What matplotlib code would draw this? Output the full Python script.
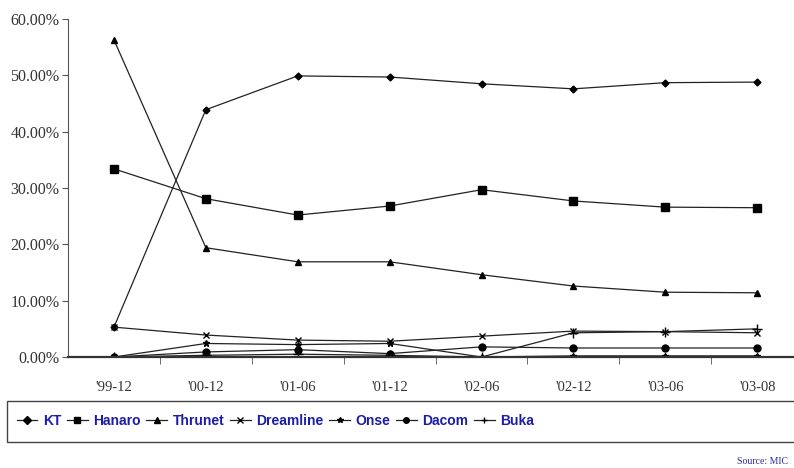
import matplotlib
matplotlib.use("Agg")
import matplotlib.pyplot as plt
from matplotlib.patches import Rectangle
from matplotlib import font_manager

periods = ["'99-12", "'00-12", "'01-06", "'01-12", "'02-06", "'02-12", "'03-06", "'03-08"]

kt = [5.3, 43.9, 49.9, 49.7, 48.5, 47.6, 48.7, 48.8]
hanaro = [33.4, 28.1, 25.2, 26.8, 29.7, 27.7, 26.6, 26.5]
thrunet = [56.3, 19.4, 16.9, 16.9, 14.6, 12.6, 11.5, 11.4]
dreamline = [5.3, 3.9, 3.0, 2.8, 3.7, 4.6, 4.5, 4.3]
onse = [0.0, 2.4, 2.2, 2.4, 0.0, 0.2, 0.2, 0.2]
dacom = [0.0, 0.9, 1.3, 0.6, 1.8, 1.6, 1.6, 1.6]
buka = [0.0, 0.3, 0.5, 0.3, 0.0, 4.3, 4.5, 5.0]

names = ["KT", "Hanaro", "Thrunet", "Dreamline", "Onse", "Dacom", "Buka"]
series = [kt, hanaro, thrunet, dreamline, onse, dacom, buka]
markers = ["D", "s", "^", "x", "*", "o", "+"]
msizes = [3.5, 6, 5, 5, 5, 5, 7]

# narrow font for the legend if one is installed
available = {f.name for f in font_manager.fontManager.ttflist}
narrow = [f for f in ["Liberation Sans Narrow", "DejaVu Sans Condensed"] if f in available]
leg_family = narrow[0] if narrow else "Liberation Sans"
leg_size = 12.5 if leg_family == "Liberation Sans Narrow" else 10

W, H = 794, 468
fig = plt.figure(figsize=(W / 100, H / 100), dpi=100)
ax = fig.add_axes([68 / W, 1 - 357 / H, (W - 68) / W, (357 - 19) / H])

x = list(range(len(periods)))
lines = []
for name, vals, m, ms in zip(names, series, markers, msizes):
    ln, = ax.plot(x, vals, color="#222222", lw=0.9, marker=m, ms=ms,
                  mfc="black", mec="black", mew=1.0, label=name)
    lines.append(ln)

ax.set_xlim(-0.5, 7.4)
ax.set_ylim(0, 60)
ax.set_yticks(range(0, 61, 10))
ax.set_yticklabels([f"{v:.2f}%" for v in range(0, 61, 10)],
                   family="Liberation Serif", fontsize=11.5, color="#333333")
ax.set_xticks(x)
ax.set_xticklabels(periods, family="Liberation Serif", fontsize=10.5, color="#333333")
ax.set_xticks([i + 0.5 for i in x[:-1]], minor=True)
ax.tick_params(axis="x", which="major", length=0, pad=17)
ax.tick_params(axis="x", which="minor", length=5, direction="out", color="#555555")
ax.tick_params(axis="y", length=4, direction="out", color="#555555", pad=2)
for s in ["top", "right"]:
    ax.spines[s].set_visible(False)
ax.spines["left"].set_color("#555555")
ax.spines["bottom"].set_color("#333333")
ax.spines["bottom"].set_linewidth(1.6)

# legend box
fig.patches.append(Rectangle((7 / W, 1 - 442 / H), (W + 5) / W, 41 / H,
                             transform=fig.transFigure, fill=False,
                             edgecolor="#444444", lw=1.0))
leg = fig.legend(lines, names, loc="center left",
                 bbox_to_anchor=(4 / W, 1 - 421 / H), ncol=7, frameon=False,
                 handlelength=1.5, handletextpad=0.4, columnspacing=0.4,
                 prop={"family": leg_family, "weight": "bold", "size": leg_size})
for t in leg.get_texts():
    t.set_color("#1c1caa")
for h in leg.legend_handles:
    h.set_markersize(4)

fig.text(788 / W, 1 - 461 / H, "Source: MIC", ha="right", va="center",
         family="Liberation Serif", fontsize=7, color="#2a2a9a")

fig.savefig("out.png", dpi=100)
